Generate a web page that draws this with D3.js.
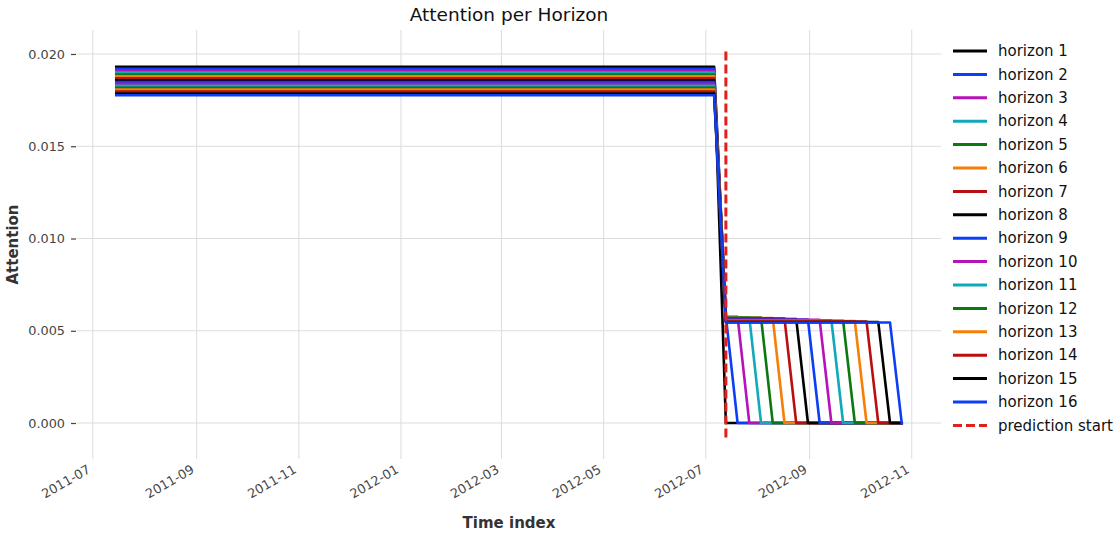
<!DOCTYPE html>
<html>
<head>
<meta charset="utf-8">
<script src="https://cdn.jsdelivr.net/npm/d3@7"></script>
<style>
    body { margin: 0; background: #fff; }
    text { font-family: "DejaVu Sans", sans-serif; }
</style>
</head>
<body>
<script>
// horizons and the attention levels
const horizons = ["horizon 1", "horizon 2", "horizon 3", "horizon 4", "horizon 5", "horizon 6",
    "horizon 7", "horizon 8", "horizon 9", "horizon 10", "horizon 11", "horizon 12",
    "horizon 13", "horizon 14", "horizon 15", "horizon 16"]
// attention on each encoder (past) week, flat for every horizon
const encoderLevel = [0.01930, 0.01920, 0.01909, 0.01899, 0.01889, 0.01879, 0.01868, 0.01858,
    0.01848, 0.01838, 0.01827, 0.01817, 0.01807, 0.01797, 0.01786, 0.01776]
// attention on the decoder weeks a horizon can see
const decoderLevel = [0, 0.00578, 0.00576, 0.00573, 0.00571, 0.00569, 0.00566, 0.00564,
    0.00561, 0.00559, 0.00557, 0.00554, 0.00552, 0.00550, 0.00547, 0.00545]
// how many decoder weeks are non zero for each horizon
const activeSteps = [0, 1, 2, 3, 4, 5, 6, 7, 8, 9, 10, 11, 12, 13, 14, 15]

const encoderStart = "2011-07-15"
const encoderWeeks = 52
const predictionStart = "2012-07-13"
const decoderWeeks = 16

const xTickLabels = ["2011-07", "2011-09", "2011-11", "2012-01", "2012-03", "2012-05",
    "2012-07", "2012-09", "2012-11"]
const yTickValues = [0, 0.005, 0.010, 0.015, 0.020]
const yRange = [-0.00195, 0.0213]

const palette = ["#000000", "#0b3ef5", "#b512b8", "#11a9ba", "#0d780f", "#f77f07", "#ba0f0f"]

const w = 1120
const h = 534
const m = { left: 77, right: 941, top: 30, bottom: 459 }

const parse = d3.utcParse("%Y-%m-%d")
const parseMonth = d3.utcParse("%Y-%m")

const encoderDates = d3.utcDay.range(parse(encoderStart), parse(predictionStart), 7).slice(0, encoderWeeks)
const decoderDates = d3.utcDay.range(parse(predictionStart), d3.utcDay.offset(parse(predictionStart), decoderWeeks * 7), 7)

const series = horizons.map((name, i) => {
    const pts = encoderDates.map(d => ({ date: d, value: encoderLevel[i] }))
    decoderDates.forEach((d, j) => {
        pts.push({ date: d, value: j < activeSteps[i] ? decoderLevel[i] : 0 })
    })
    return { name: name, color: palette[i % palette.length], points: pts }
})

const svg = d3.select("body")
    .append("svg")
    .attr("width", w)
    .attr("height", h)

// matplotlib style 5% margins on the time axis
const t0 = encoderDates[0]
const t1 = decoderDates[decoderDates.length - 1]
const pad = (t1 - t0) * 0.05
const x = d3.scaleUtc()
    .domain([new Date(+t0 - pad), new Date(+t1 + pad)])
    .range([m.left, m.right])

const y = d3.scaleLinear()
    .domain(yRange)
    .range([m.bottom, m.top])

// grid
const xTicks = xTickLabels.map(parseMonth)
svg.append("g")
    .selectAll("line")
    .data(xTicks)
    .enter()
    .append("line")
    .attr("x1", d => x(d))
    .attr("x2", d => x(d))
    .attr("y1", m.top)
    .attr("y2", m.bottom)
    .attr("stroke", "#dcdcdc")
    .attr("stroke-width", 1)

svg.append("g")
    .selectAll("line")
    .data(yTickValues)
    .enter()
    .append("line")
    .attr("x1", m.left)
    .attr("x2", m.right)
    .attr("y1", d => y(d))
    .attr("y2", d => y(d))
    .attr("stroke", "#dcdcdc")
    .attr("stroke-width", 1)

// y axis: little dash ticks and labels, no spine
const yAxis = svg.append("g")
    .attr("transform", `translate(${m.left - 1}, 0)`)
    .call(d3.axisLeft(y).tickValues(yTickValues).tickFormat(d3.format(".3f")).tickSize(5).tickPadding(6))
yAxis.select(".domain").remove()
yAxis.selectAll(".tick line").attr("stroke", "#444").attr("stroke-width", 1.2)
yAxis.selectAll(".tick text")
    .attr("fill", "#444")
    .style("font-size", "12.8px")
    .style("font-family", "DejaVu Sans")

// x tick labels, rotated like autofmt_xdate
svg.append("g")
    .selectAll("text")
    .data(xTicks)
    .enter()
    .append("text")
    .attr("transform", d => `translate(${x(d) - 1.5}, 472) rotate(-30)`)
    .attr("text-anchor", "end")
    .attr("fill", "#444")
    .style("font-size", "12.8px")
    .text(d3.utcFormat("%Y-%m"))

// lines, horizon 1 first so horizon 16 ends on top
const line = d3.line()
    .x(d => x(d.date))
    .y(d => y(d.value))

svg.append("g")
    .selectAll("path")
    .data(series)
    .enter()
    .append("path")
    .attr("d", d => line(d.points))
    .attr("fill", "none")
    .attr("stroke", d => d.color)
    .attr("stroke-width", 2.6)
    .attr("stroke-linecap", "square")
    .attr("stroke-linejoin", "round")

// prediction start marker, 5%..95% of the axis height
const yFrac = f => m.bottom - f * (m.bottom - m.top)
svg.append("line")
    .attr("x1", x(parse(predictionStart)))
    .attr("x2", x(parse(predictionStart)))
    .attr("y1", yFrac(0.05))
    .attr("y2", yFrac(0.95))
    .attr("stroke", "#e0201c")
    .attr("stroke-width", 3)
    .attr("stroke-dasharray", "9,4")

// title and axis labels
svg.append("text")
    .attr("x", (m.left + m.right) / 2)
    .attr("y", 21)
    .attr("text-anchor", "middle")
    .attr("fill", "#111")
    .style("font-size", "18.5px")
    .text("Attention per Horizon")

svg.append("text")
    .attr("x", (m.left + m.right) / 2)
    .attr("y", 528)
    .attr("text-anchor", "middle")
    .attr("fill", "#333")
    .style("font-size", "15px")
    .style("font-weight", "bold")
    .text("Time index")

svg.append("text")
    .attr("transform", `translate(17.5, ${(m.top + m.bottom) / 2}) rotate(-90)`)
    .attr("text-anchor", "middle")
    .attr("fill", "#333")
    .style("font-size", "15px")
    .style("font-weight", "bold")
    .text("Attention")

// legend
const legendItems = series.map(s => ({ name: s.name, color: s.color, dash: null }))
legendItems.push({ name: "prediction start", color: "#e0201c", dash: "9,4" })

const legend = svg.append("g")
    .attr("id", "legend")

const rows = legend.selectAll("g")
    .data(legendItems)
    .enter()
    .append("g")
    .attr("transform", (d, i) => `translate(953, ${51 + i * 23.4})`)

rows.append("line")
    .attr("x1", 0)
    .attr("x2", 34)
    .attr("stroke", d => d.color)
    .attr("stroke-width", 3)
    .attr("stroke-dasharray", d => d.dash)

rows.append("text")
    .attr("x", 45)
    .attr("dy", "0.35em")
    .attr("fill", "#111")
    .style("font-size", "15px")
    .text(d => d.name)
</script>
</body>
</html>
